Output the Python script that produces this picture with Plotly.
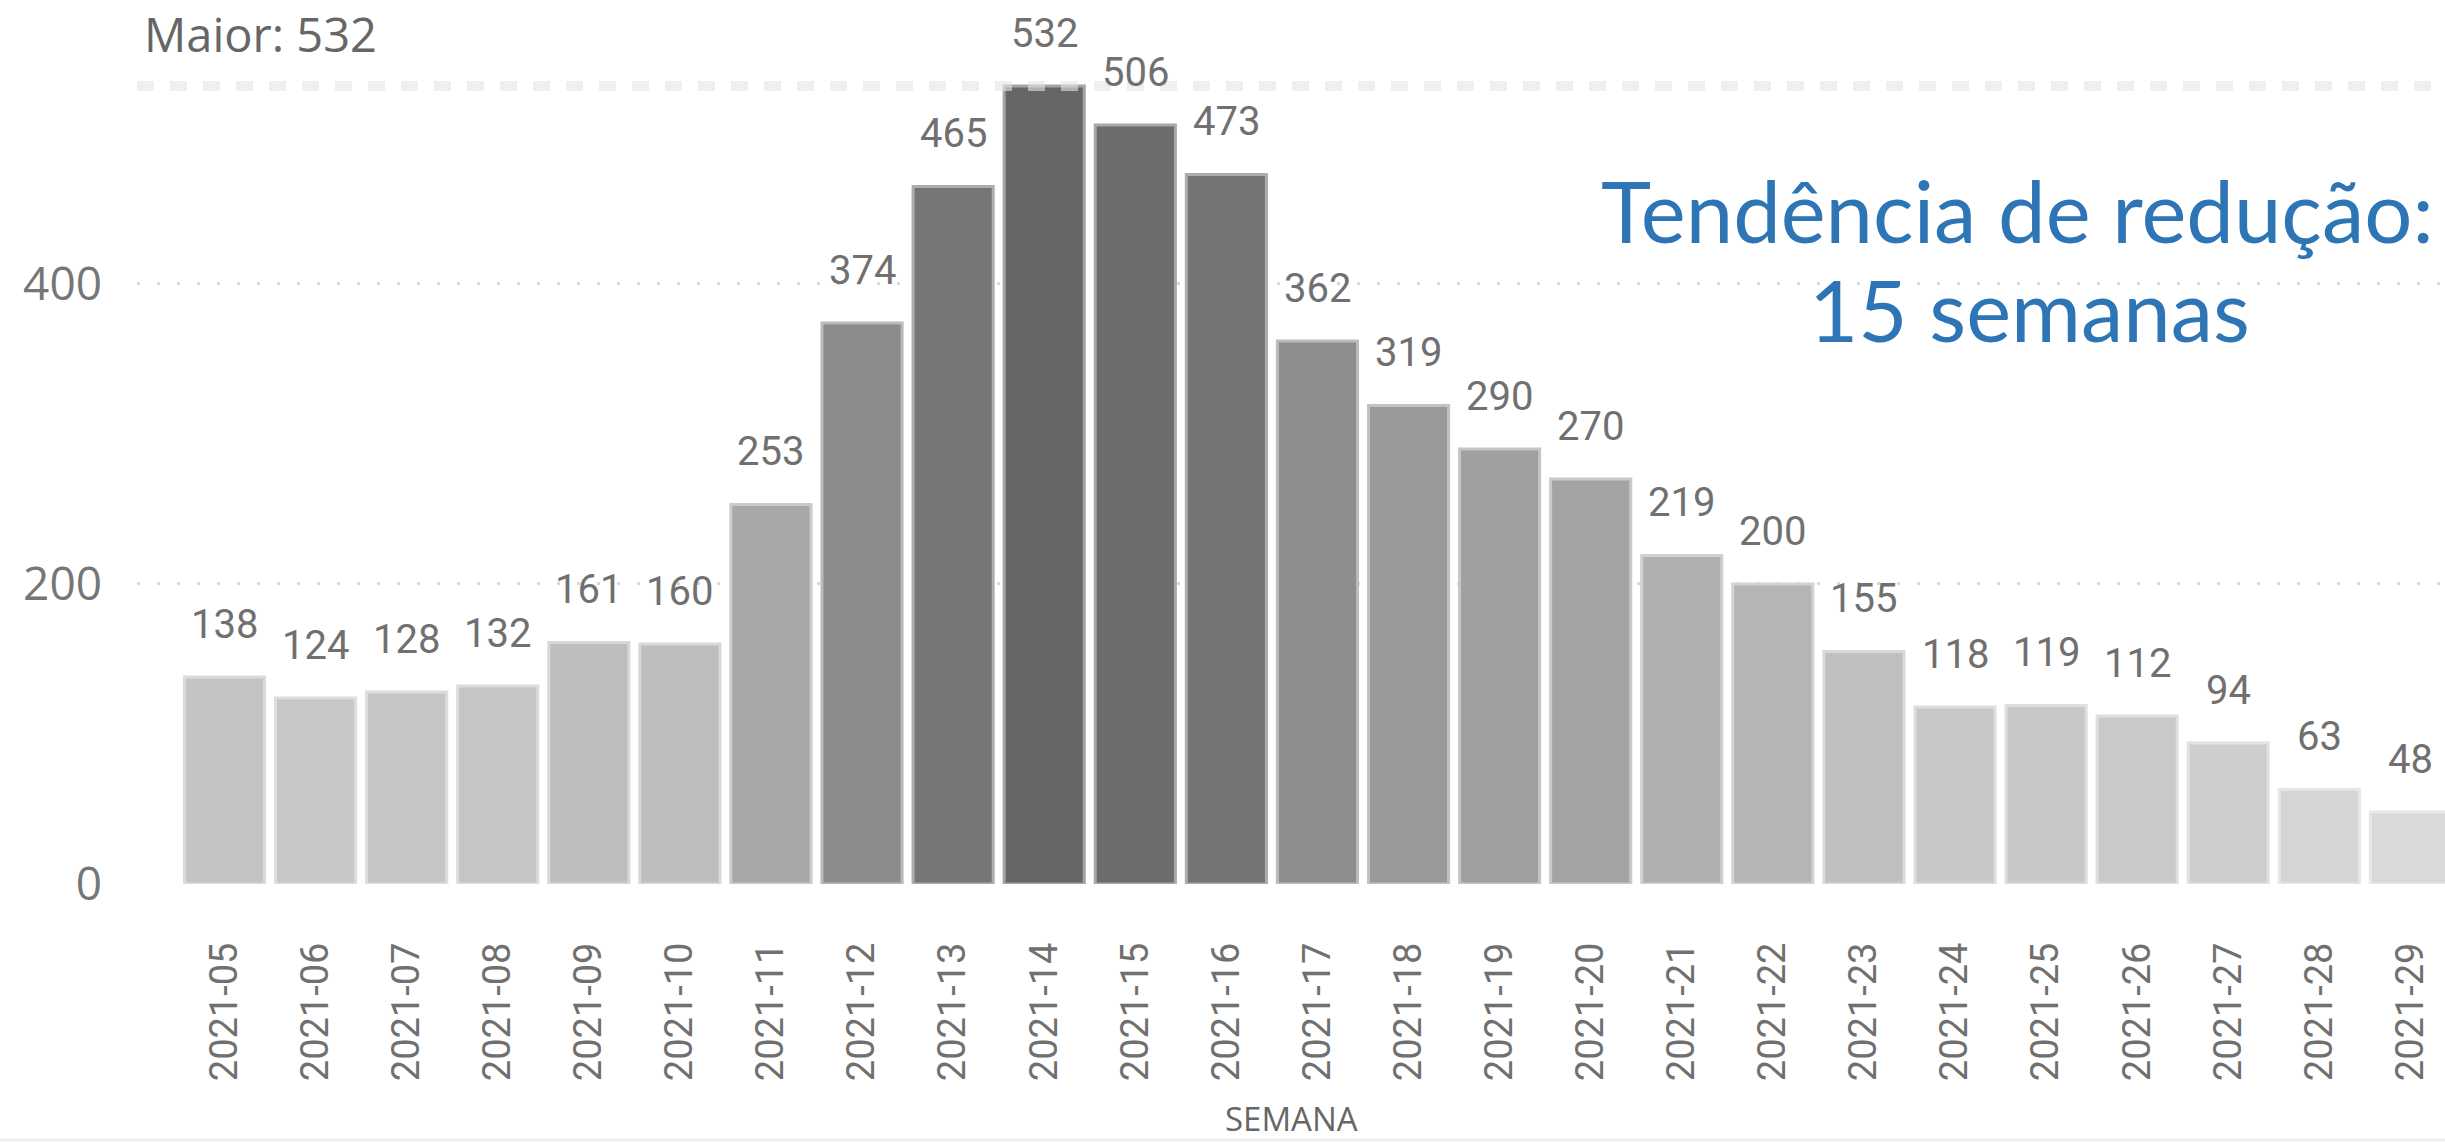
import plotly.graph_objects as go

# weekly counts (SEMANA epidemiológica)
weeks = ["2021-05", "2021-06", "2021-07", "2021-08", "2021-09", "2021-10", "2021-11",
         "2021-12", "2021-13", "2021-14", "2021-15", "2021-16", "2021-17", "2021-18",
         "2021-19", "2021-20", "2021-21", "2021-22", "2021-23", "2021-24", "2021-25",
         "2021-26", "2021-27", "2021-28", "2021-29"]
cases = [138, 124, 128, 132, 161, 160, 253, 374, 465, 532, 506, 473, 362, 319,
         290, 270, 219, 200, 155, 118, 119, 112, 94, 63, 48]
y_ticks = [0, 200, 400]

peak = max(cases)
LABEL_FONT = "Roboto, DejaVu Sans, sans-serif"
UI_FONT = "Open Sans, Noto Sans, sans-serif"

fig = go.Figure()
fig.add_trace(go.Bar(
    x=weeks, y=cases,
    marker=dict(
        color=cases, colorscale=[[0, "#d9d9d9"], [1, "#666666"]],
        cmin=min(cases), cmax=peak,
        line=dict(color=cases, colorscale=[[0, "#e8e8e8"], [1, "#a4a4a4"]],
                  cmin=min(cases), cmax=peak, width=3),
    ),
    hoverinfo="x+y",
))

# data labels above bars
for w, v in zip(weeks, cases):
    fig.add_annotation(x=w, y=v, text=str(v), showarrow=False,
                       yanchor="bottom", yshift=27,
                       font=dict(family=LABEL_FONT, size=40, color="#707070"))

# max reference line
fig.add_shape(type="line", xref="paper", yref="y", x0=0, x1=1, y0=peak, y1=peak,
              line=dict(color="rgba(228,228,228,0.6)", width=10, dash="17px,16px"),
              layer="above")
fig.add_annotation(xref="paper", x=0.002, yref="y", y=peak, text=f"Maior: {peak}",
                   showarrow=False, xanchor="left", yanchor="bottom", yshift=18,
                   font=dict(family=UI_FONT, size=47, color="#666666"))

# callout
fig.add_annotation(xref="paper", yref="paper", x=0.8146, y=0.762,
                   text="Tendência de redução:", showarrow=False,
                   xanchor="center", yanchor="middle",
                   font=dict(family="Lato, sans-serif", size=85, color="#2E75B6"))
fig.add_annotation(xref="paper", yref="paper", x=0.8200, y=0.650,
                   text="15 semanas", showarrow=False,
                   xanchor="center", yanchor="middle",
                   font=dict(family="Lato, sans-serif", size=85, color="#2E75B6"))

# axis title
fig.add_annotation(xref="paper", yref="paper", x=0.5, y=0, yanchor="top", yshift=-210,
                   text="SEMANA", showarrow=False,
                   font=dict(family=UI_FONT, size=33, color="#666666"))

fig.add_shape(type="line", xref="paper", yref="paper", x0=-0.1, x1=1.1,
              y0=-0.2896, y1=-0.2896, line=dict(color="#efefef", width=3))

fig.update_layout(
    width=2445, height=1142,
    margin=dict(l=137, r=0, t=0, b=258),
    paper_bgcolor="white", plot_bgcolor="white",
    bargap=0.12, showlegend=False,
    xaxis=dict(
        type="category", range=[-0.961, 24.38], tickangle=-90,
        showgrid=False, showline=False, zeroline=False, ticks="",
        ticklabelstandoff=50,
        tickfont=dict(family=LABEL_FONT, size=38, color="#707070"),
    ),
    yaxis=dict(
        range=[0, 589.3], tickvals=y_ticks, showgrid=True,
        gridcolor="#d8d8d8", gridwidth=3, griddash="3px,17px",
        zeroline=False, showline=False, ticks="",
        ticklabelstandoff=34,
        tickfont=dict(family=UI_FONT, size=46, color="#767676"),
    ),
)

fig.write_html("out.html", config={"displayModeBar": False},
               post_script="document.body.style.margin='0';document.body.style.overflow='hidden';")
